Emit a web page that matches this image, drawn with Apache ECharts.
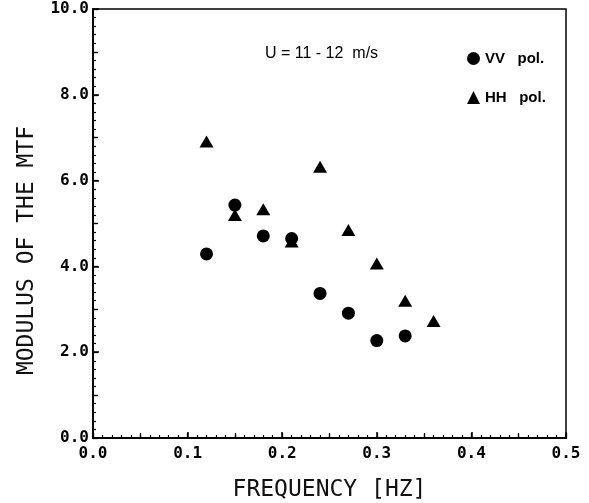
<!DOCTYPE html>
<html>
<head>
<meta charset="utf-8">
<script src="https://cdn.jsdelivr.net/npm/echarts@6/dist/echarts.min.js"></script>
<style>
html,body{margin:0;padding:0;background:#fff;}
#c{width:589px;height:503px;}
</style>
</head>
<body>
<div id="c"></div>
<script>
const freq = [0.12, 0.15, 0.18, 0.21, 0.24, 0.27, 0.30, 0.33, 0.36];
const vvValues = [4.29, 5.43, 4.71, 4.65, 3.37, 2.91, 2.27, 2.38];
const hhValues = [6.91, 5.20, 5.33, 4.58, 6.32, 4.85, 4.07, 3.20, 2.73];
const seriesNames = ['VV   pol.', 'HH   pol.'];
const xTitle = 'FREQUENCY [HZ]';
const yTitle = 'MODULUS OF THE MTF';
const note = 'U = 11 - 12  m/s';

const vvData = vvValues.map((v, i) => [freq[i], v]);
const hhData = hhValues.map((v, i) => [freq[i], v]);

const mono = "'DejaVu Sans Mono', monospace";
const tickLabel = { color: '#000', fontFamily: mono, fontSize: 16, fontWeight: 'bold' };

const chart = echarts.init(document.getElementById('c'), null, { renderer: 'canvas' });
chart.setOption({
  backgroundColor: '#fff',
  animation: false,
  grid: { left: 93, right: 23, top: 9, bottom: 65, containLabel: false, outerBoundsMode: 'none', show: true, borderColor: '#000', borderWidth: 1.5, backgroundColor: 'transparent' },
  xAxis: [
    {
      type: 'value', min: 0, max: 0.5, interval: 0.1,
      name: xTitle, nameLocation: 'middle', nameGap: 41,
      nameTextStyle: { color: '#111', fontFamily: mono, fontSize: 23 },
      axisLine: { show: true, lineStyle: { color: '#000', width: 2 } },
      axisTick: { show: true, inside: true, length: 6, lineStyle: { color: '#000', width: 1.5 } },
      minorTick: { show: true, splitNumber: 10, length: 3, lineStyle: { color: '#000', width: 1.2 } },
      axisLabel: Object.assign({ margin: 8, formatter: v => v.toFixed(1) }, tickLabel),
      splitLine: { show: false }
    },
    {
      type: 'value', min: 0, max: 0.5, interval: 0.05, position: 'bottom',
      axisLine: { show: false },
      axisTick: { show: true, inside: true, length: 5, lineStyle: { color: '#000', width: 1.3 } },
      axisLabel: { show: false },
      splitLine: { show: false }
    }
  ],
  yAxis: [
    {
      type: 'value', min: 0, max: 10, interval: 2,
      name: yTitle, nameLocation: 'middle', nameGap: 54,
      nameTextStyle: { color: '#111', fontFamily: mono, fontSize: 23, padding: [0, 54, 0, 0] },
      axisLine: { show: true, lineStyle: { color: '#000', width: 2 } },
      axisTick: { show: true, inside: true, length: 6, lineStyle: { color: '#000', width: 1.5 } },
      minorTick: { show: true, splitNumber: 10, length: 3, lineStyle: { color: '#000', width: 1.2 } },
      axisLabel: Object.assign({ margin: 4, formatter: v => v.toFixed(1) }, tickLabel),
      splitLine: { show: false }
    },
    {
      type: 'value', min: 0, max: 10, interval: 1, position: 'left',
      axisLine: { show: false },
      axisTick: { show: true, inside: true, length: 5, lineStyle: { color: '#000', width: 1.3 } },
      axisLabel: { show: false },
      splitLine: { show: false }
    }
  ],
  legend: {
    orient: 'vertical', left: 462, top: 46,
    itemWidth: 13, itemHeight: 13, itemGap: 24,
    data: seriesNames,
    textStyle: { color: '#000', fontFamily: "'Liberation Sans', Arial, sans-serif", fontSize: 15, fontWeight: 'bold' }
  },
  graphic: [
    { type: 'text', left: 265, top: 46, style: { text: note, fill: '#000', font: "16px 'Liberation Sans', Arial, sans-serif" } }
  ],
  series: [
    { name: seriesNames[0], type: 'scatter', xAxisIndex: 0, yAxisIndex: 0, symbol: 'circle', symbolSize: 13, itemStyle: { color: '#000', opacity: 1 }, data: vvData, z: 3 },
    { name: seriesNames[1], type: 'scatter', xAxisIndex: 0, yAxisIndex: 0, symbol: 'triangle', symbolSize: [14, 12], itemStyle: { color: '#000', opacity: 1 }, data: hhData, z: 2 }
  ]
});
</script>
</body>
</html>
